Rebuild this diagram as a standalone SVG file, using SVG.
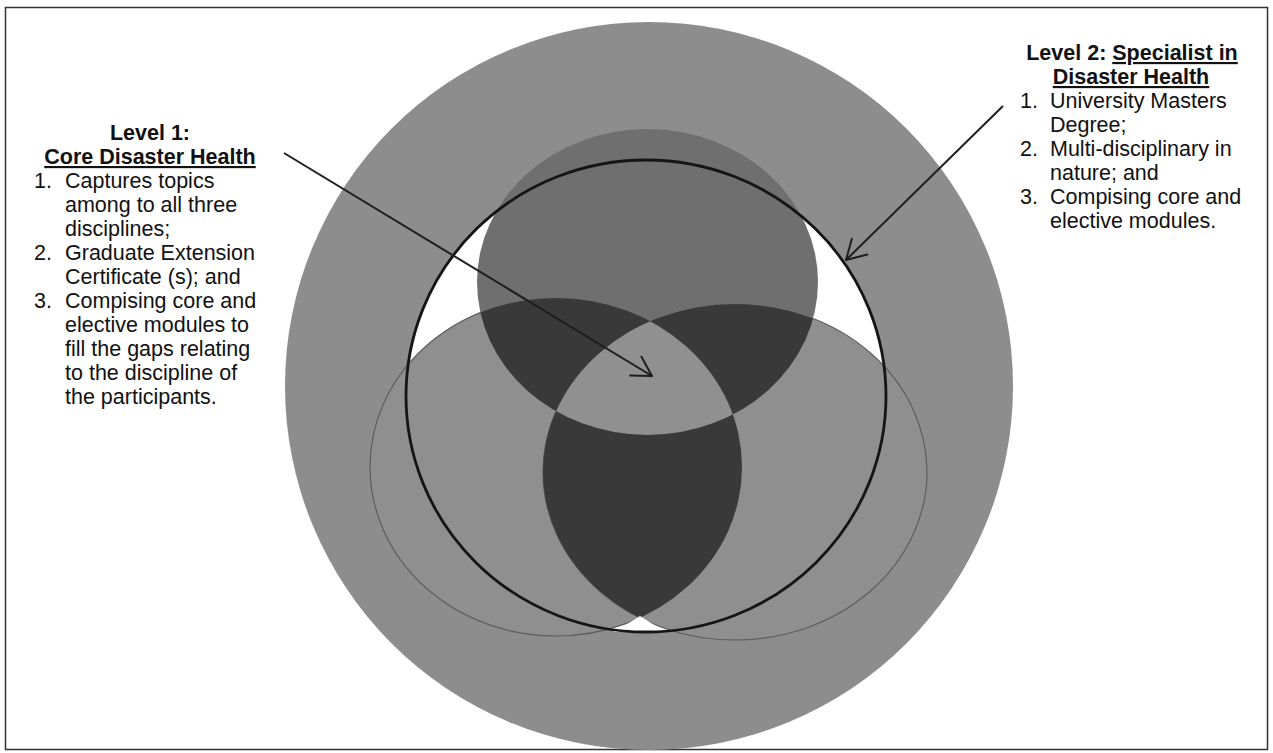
<svg xmlns="http://www.w3.org/2000/svg" width="1273" height="753" viewBox="0 0 1273 753">
  <style>
    .txt { font-family: "Liberation Sans", Arial, sans-serif; font-size: 21.5px; fill: #111; }
    .b { font-weight: bold; }
    .u { text-decoration: underline; }
    .conn { stroke: #1e1e1e; stroke-width: 2; fill: none; }
    .thin { stroke: #5e5e5e; stroke-width: 1.2; }
  </style>
  <defs>
    <marker id="open" viewBox="-25 -15 30 30" refX="0" refY="0" markerWidth="30" markerHeight="30" markerUnits="userSpaceOnUse" orient="auto" overflow="visible">
      <path d="M-19,-11 L0,0 L-19,11" fill="none" stroke="#1e1e1e" stroke-width="2" stroke-linecap="round" stroke-linejoin="round"/>
    </marker>
    <clipPath id="cA"><ellipse cx="647.5" cy="282" rx="170.5" ry="153"/></clipPath>
    <clipPath id="cB"><ellipse cx="556" cy="467" rx="186" ry="169"/></clipPath>
  </defs>

  <rect x="5.5" y="7.5" width="1262" height="742" fill="none" stroke="#333" stroke-width="1.5"/>

  <g id="level2-outer">
    <circle cx="649" cy="386" r="364" fill="#8d8d8d"/>
    <ellipse cx="646" cy="396" rx="240" ry="236" fill="#ffffff"/>
  </g>

  <g id="venn">
    <ellipse id="circleB" cx="556" cy="467" rx="186" ry="169" fill="#8f8f8f" class="thin"/>
    <ellipse id="circleC" cx="735" cy="472" rx="192" ry="168" fill="#8f8f8f" class="thin"/>
    <ellipse id="circleA" cx="647.5" cy="282" rx="170.5" ry="153" fill="#6f6f6f"/>
    <ellipse id="AB" cx="556" cy="467" rx="186" ry="169" fill="#393939" clip-path="url(#cA)"/>
    <ellipse id="AC" cx="735" cy="472" rx="192" ry="168" fill="#393939" clip-path="url(#cA)"/>
    <ellipse id="BC" cx="735" cy="472" rx="192" ry="168" fill="#393939" clip-path="url(#cB)"/>
    <g id="ABC" clip-path="url(#cA)">
      <ellipse cx="735" cy="472" rx="192" ry="168" fill="#909090" clip-path="url(#cB)"/>
    </g>
    <path id="gap" d="M640,616 Q628,624 613,632 L667,632 Q652,624 640,616 Z" fill="#ffffff"/>
  </g>

  <g id="level2-circle">
    <ellipse cx="646" cy="396" rx="240" ry="236" fill="none" stroke="#151515" stroke-width="2.8"/>
  </g>

  <g id="connectors">
    <line class="conn" x1="284" y1="153" x2="652" y2="376" marker-end="url(#open)"/>
    <line class="conn" x1="1003" y1="106" x2="846" y2="260" marker-end="url(#open)"/>
  </g>

  <g id="level1-label" class="txt">
    <text x="150" y="140" text-anchor="middle" class="b">Level 1:</text>
    <text x="150" y="164" text-anchor="middle" class="b u">Core Disaster Health</text>
    <text x="34" y="188">1.</text><text x="65" y="188">Captures topics</text>
    <text x="65" y="212">among to all three</text>
    <text x="65" y="236">disciplines;</text>
    <text x="34" y="260">2.</text><text x="65" y="260">Graduate Extension</text>
    <text x="65" y="284">Certificate (s); and</text>
    <text x="34" y="308">3.</text><text x="65" y="308">Compising core and</text>
    <text x="65" y="332">elective modules to</text>
    <text x="65" y="356">fill the gaps relating</text>
    <text x="65" y="380">to the discipline of</text>
    <text x="65" y="404">the participants.</text>
  </g>

  <g id="level2-label" class="txt">
    <text x="1132" y="60" text-anchor="middle" class="b">Level 2: <tspan class="u">Specialist in</tspan></text>
    <text x="1131" y="84" text-anchor="middle" class="b u">Disaster Health</text>
    <text x="1020" y="108">1.</text><text x="1050" y="108">University Masters</text>
    <text x="1050" y="132">Degree;</text>
    <text x="1020" y="156">2.</text><text x="1050" y="156">Multi-disciplinary in</text>
    <text x="1050" y="180">nature; and</text>
    <text x="1020" y="204">3.</text><text x="1050" y="204">Compising core and</text>
    <text x="1050" y="228">elective modules.</text>
  </g>
</svg>
